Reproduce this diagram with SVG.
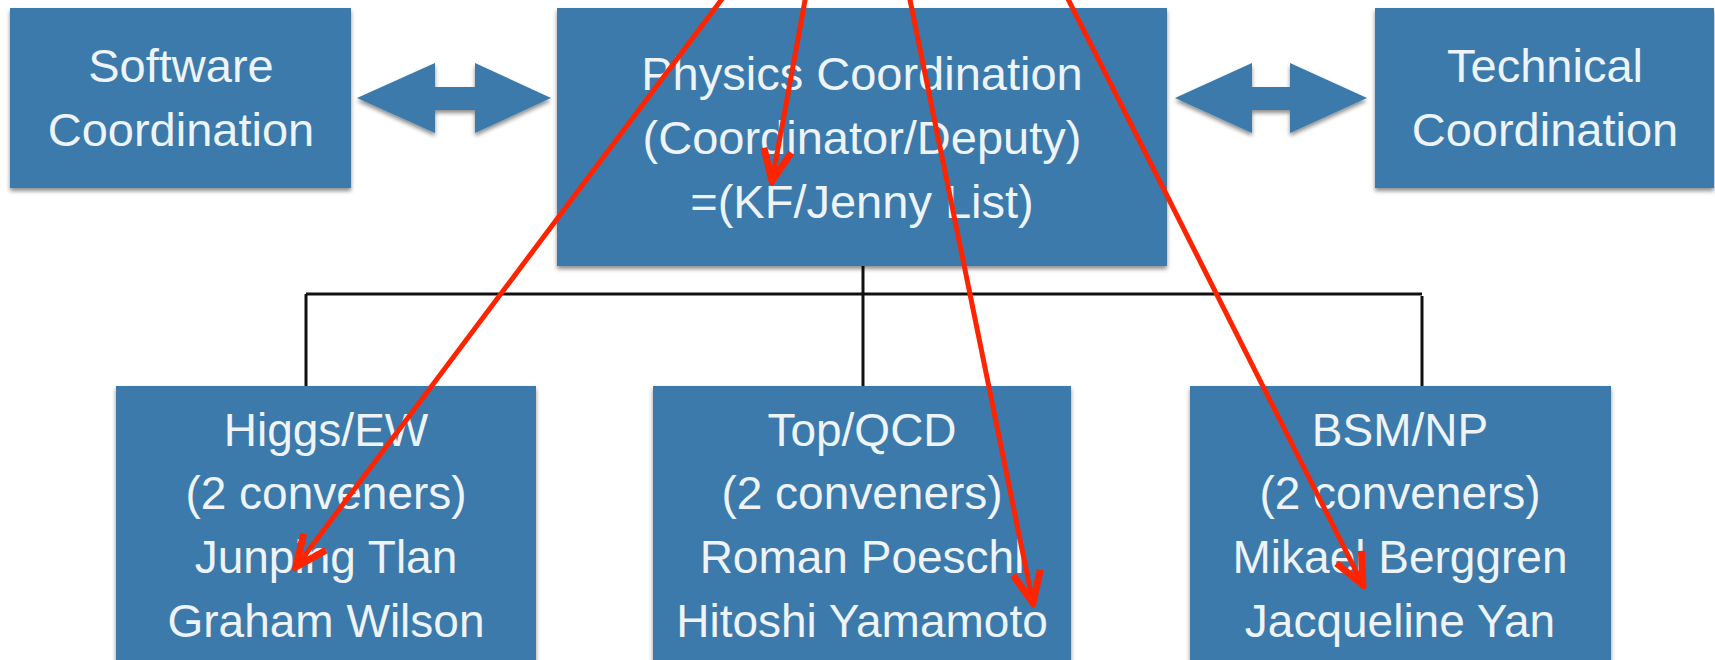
<svg xmlns="http://www.w3.org/2000/svg" width="1715" height="660" viewBox="0 0 1715 660">
<defs>
<style>
.box{fill:#3a7aab;filter:url(#sh);}
.t{font-family:"Liberation Sans",Arial,sans-serif;font-size:46px;fill:#eef3f8;text-anchor:middle;}
.tt{font-family:"Liberation Sans",Arial,sans-serif;font-size:47px;fill:#eef3f8;text-anchor:middle;}
.dbl{fill:#3a7aab;filter:url(#sh);}
.bus{stroke:#111;stroke-width:3;fill:none;}
.red{stroke:#ff2400;stroke-width:5;fill:none;marker-end:url(#ah);}
</style>
<filter id="sh" x="-5%" y="-5%" width="110%" height="115%">
<feDropShadow dx="0" dy="3" stdDeviation="2" flood-color="#000" flood-opacity="0.45"/>
</filter>
<marker id="ah" markerUnits="userSpaceOnUse" markerWidth="44" markerHeight="44" viewBox="-34 -18 38 36" refX="0" refY="0" orient="auto">
<path d="M -27 -12 L 0 0 L -27 12" stroke="#ff2400" stroke-width="6" fill="none" stroke-linejoin="miter"/>
</marker>
</defs>
<rect width="1715" height="660" fill="#ffffff"/>

<g id="connectors">
<path class="bus" d="M 306 294 H 1422"/>
<path class="bus" d="M 306 294 V 386"/>
<path class="bus" d="M 863 266 V 386"/>
<path class="bus" d="M 1422 296 V 386"/>
<polygon class="dbl" points="357,98 435,63 435,87 475,87 475,63 551,98 475,133 475,110 435,110 435,133"/>
<polygon class="dbl" points="1175,98 1252,63 1252,87 1290,87 1290,63 1367,98 1290,133 1290,110 1252,110 1252,133"/>
</g>

<g id="software">
<rect class="box" x="10" y="8" width="341" height="180"/>
<text class="tt" x="181" y="82">Software</text>
<text class="tt" x="181" y="146">Coordination</text>
</g>

<g id="physics">
<rect class="box" x="557" y="8" width="610" height="258"/>
<text class="tt" x="862" y="90">Physics Coordination</text>
<text class="tt" x="862" y="154">(Coordinator/Deputy)</text>
<text class="tt" x="862" y="218">=(KF/Jenny List)</text>
</g>

<g id="technical">
<rect class="box" x="1375" y="8" width="339" height="180"/>
<text class="tt" x="1545" y="82">Technical</text>
<text class="tt" x="1545" y="146">Coordination</text>
</g>

<g id="higgs">
<rect class="box" x="116" y="386" width="420" height="290"/>
<text class="t" x="326" y="446">Higgs/EW</text>
<text class="t" x="326" y="509">(2 conveners)</text>
<text class="t" x="326" y="573">Junping Tlan</text>
<text class="t" x="326" y="637">Graham Wilson</text>
</g>

<g id="topqcd">
<rect class="box" x="653" y="386" width="418" height="290"/>
<text class="t" x="862" y="446">Top/QCD</text>
<text class="t" x="862" y="509">(2 conveners)</text>
<text class="t" x="862" y="573">Roman Poeschl</text>
<text class="t" x="862" y="637">Hitoshi Yamamoto</text>
</g>

<g id="bsm">
<rect class="box" x="1190" y="386" width="421" height="290"/>
<text class="t" x="1400" y="446">BSM/NP</text>
<text class="t" x="1400" y="509">(2 conveners)</text>
<text class="t" x="1400" y="573">Mikael Berggren</text>
<text class="t" x="1400" y="637">Jacqueline Yan</text>
</g>

<g id="red-arrows">
<line class="red" x1="725" y1="-5" x2="296" y2="567"/>
<line class="red" x1="806" y1="-5" x2="772" y2="181"/>
<line class="red" x1="909" y1="-5" x2="1033" y2="603"/>
<line class="red" x1="1066" y1="-5" x2="1363" y2="585"/>
</g>
</svg>
